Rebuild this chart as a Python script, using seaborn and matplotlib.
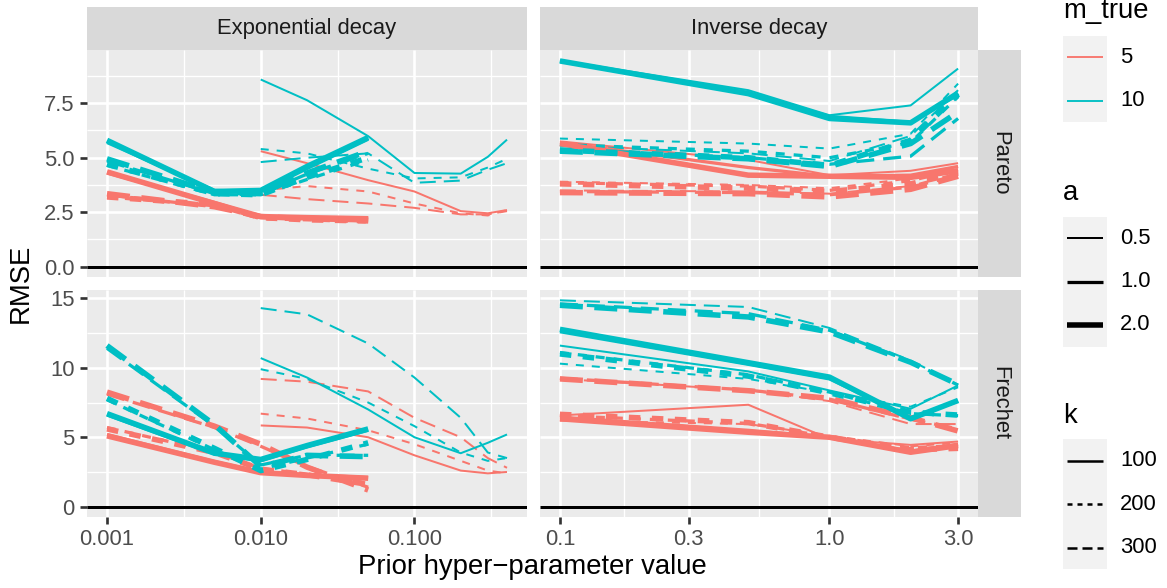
import matplotlib
matplotlib.use("Agg")
import pandas as pd
import matplotlib.pyplot as plt
import seaborn as sns
from matplotlib.patches import Rectangle
from matplotlib.ticker import FixedLocator, FixedFormatter, MultipleLocator, FormatStrFormatter

# ── data ─────────────────────────────────────────────────────────────────────
DISTS = ["Pareto", "Frechet"]
PRIORS = ["Exponential decay", "Inverse decay"]
M_LEVELS = [5, 10]
A_LEVELS = [0.5, 1.0, 2.0]
K_LEVELS = [100, 200, 300]

# prior hyper-parameter grids
X_EXP_A05 = [0.01, 0.02, 0.05, 0.1, 0.2, 0.3, 0.4]
X_EXP_A12 = [0.001, 0.005, 0.01, 0.02, 0.05]
X_INV = [0.1, 0.5, 1.0, 2.0, 3.0]

# RMSE, one row per line, rows ordered (a, k):
# (0.5,100) (0.5,200) (0.5,300) (1,100) (1,200) (1,300) (2,100) (2,200) (2,300)
pareto_exp_m5 = [
    [5.30, 4.75, 3.97, 3.45, 2.55, 2.45, 2.60],
    [3.50, 3.70, 3.45, 2.90, 2.45, 2.35, 2.60],
    [3.30, 3.10, 2.90, 2.70, 2.40, 2.40, 2.55],
    [4.30, 2.95, 2.30, 2.25, 2.25],
    [3.20, 2.80, 2.20, 2.15, 2.05],
    [3.30, 2.75, 2.25, 2.20, 2.10],
    [4.35, 2.90, 2.30, 2.25, 2.20],
    [3.20, 2.85, 2.25, 2.15, 2.10],
    [3.35, 2.75, 2.30, 2.20, 2.15],
]
pareto_exp_m10 = [
    [8.59, 7.64, 5.99, 4.30, 4.27, 5.04, 5.83],
    [5.40, 5.20, 4.50, 4.05, 4.10, 4.55, 4.95],
    [4.80, 5.00, 5.20, 3.85, 3.95, 4.45, 4.75],
    [5.70, 3.50, 3.45, 4.50, 5.85],
    [4.65, 3.30, 3.30, 4.00, 4.90],
    [4.85, 3.35, 3.35, 4.25, 5.20],
    [5.80, 3.45, 3.50, 4.60, 5.93],
    [4.70, 3.35, 3.30, 4.10, 5.00],
    [4.95, 3.40, 3.35, 4.30, 5.30],
]
pareto_inv_m5 = [
    [5.75, 4.90, 4.20, 4.40, 4.75],
    [3.90, 3.75, 3.60, 4.05, 4.55],
    [3.50, 3.45, 3.35, 3.70, 4.30],
    [5.70, 4.55, 4.15, 4.20, 4.60],
    [3.85, 3.70, 3.50, 3.95, 4.45],
    [3.45, 3.40, 3.30, 3.65, 4.20],
    [5.65, 4.20, 4.15, 4.10, 4.40],
    [3.80, 3.60, 3.45, 3.80, 4.30],
    [3.40, 3.35, 3.20, 3.55, 4.15],
]
pareto_inv_m10 = [
    [9.47, 8.10, 6.95, 7.40, 9.09],
    [5.88, 5.65, 5.42, 6.10, 8.40],
    [5.55, 5.20, 4.85, 6.00, 8.10],
    [9.42, 7.98, 6.90, 6.62, 7.90],
    [5.60, 5.30, 5.00, 5.70, 7.80],
    [5.40, 5.00, 4.70, 5.07, 6.80],
    [9.44, 7.94, 6.80, 6.60, 7.97],
    [5.35, 5.00, 4.65, 5.80, 7.90],
    [5.30, 4.95, 4.60, 5.65, 7.10],
]
frechet_exp_m5 = [
    [5.85, 5.70, 5.00, 3.70, 2.60, 2.40, 2.50],
    [6.70, 6.35, 5.50, 4.50, 3.30, 2.60, 2.40],
    [9.20, 9.00, 8.30, 6.40, 5.00, 3.50, 2.80],
    [5.20, 3.25, 2.50, 2.30, 2.10],
    [5.70, 3.95, 2.75, 2.35, 1.70],
    [8.10, 5.70, 4.35, 2.90, 1.40],
    [5.10, 3.20, 2.45, 2.25, 2.05],
    [5.60, 3.90, 2.70, 2.30, 1.60],
    [8.25, 5.80, 4.50, 2.85, 1.20],
]
frechet_exp_m10 = [
    [10.70, 9.30, 7.00, 5.00, 3.85, 4.60, 5.20],
    [9.90, 9.20, 7.50, 5.80, 3.90, 3.30, 3.50],
    [14.30, 13.85, 11.75, 9.30, 6.40, 3.90, 3.50],
    [6.60, 3.80, 3.30, 4.30, 5.50],
    [7.70, 4.10, 2.70, 3.50, 4.50],
    [11.40, 5.80, 3.00, 3.70, 3.70],
    [6.70, 3.85, 3.40, 4.40, 5.60],
    [7.80, 4.20, 2.60, 3.40, 4.60],
    [11.60, 5.90, 2.90, 3.70, 3.60],
]
frechet_inv_m5 = [
    [6.57, 7.34, 4.88, 4.45, 4.69],
    [6.20, 5.95, 5.10, 4.35, 4.60],
    [9.20, 8.40, 7.60, 5.95, 5.95],
    [6.45, 5.50, 5.00, 4.00, 4.50],
    [6.55, 6.00, 5.05, 4.25, 4.40],
    [9.25, 8.40, 7.75, 6.30, 5.60],
    [6.33, 5.36, 5.00, 3.92, 4.40],
    [6.65, 6.05, 5.00, 4.10, 4.20],
    [9.20, 8.35, 7.80, 6.40, 5.45],
]
frechet_inv_m10 = [
    [11.60, 9.74, 8.37, 7.05, 8.73],
    [10.30, 9.20, 8.20, 7.20, 8.60],
    [14.86, 14.38, 12.87, 10.53, 8.78],
    [12.60, 10.25, 9.20, 6.40, 7.60],
    [11.10, 9.50, 8.25, 6.70, 6.55],
    [14.60, 13.90, 12.70, 10.45, 8.75],
    [12.77, 10.37, 9.33, 6.33, 7.65],
    [11.00, 9.40, 8.20, 6.80, 6.60],
    [14.50, 13.66, 12.58, 10.40, 8.80],
]

# ── styles (ggplot2 look) ────────────────────────────────────────────────────
M_COLORS = {5: "#F8766D", 10: "#00BFC4"}
A_WIDTHS = {0.5: 0.8, 1.0: 1.3, 2.0: 2.2}
# dash unit (points) per line width: ggplot dashes grow with the line but
# never get shorter than a minimum
A_DASH_UNIT = {0.5: 1.6, 1.0: 1.8, 2.0: 2.3}
K_PATTERN = {100: "", 200: (2, 2), 300: (4, 2)}

plt.rcParams["font.family"] = ["Liberation Sans", "DejaVu Sans"]
plt.rcParams["lines.solid_capstyle"] = "butt"
plt.rcParams["lines.dash_capstyle"] = "butt"
plt.rcParams["lines.solid_joinstyle"] = "round"
plt.rcParams["lines.dash_joinstyle"] = "round"
plt.rcParams["lines.scale_dashes"] = False


def dashes_for(a):
    u = A_DASH_UNIT[a]
    return {k: (p if p == "" else tuple(v * u for v in p)) for k, p in K_PATTERN.items()}


def to_long(values, dist, prior, m_true):
    rows = []
    combos = [(a, k) for a in A_LEVELS for k in K_LEVELS]
    for (a, k), ys in zip(combos, values):
        if prior == "Inverse decay":
            xs = X_INV
        elif a == 0.5:
            xs = X_EXP_A05
        else:
            xs = X_EXP_A12
        for x, y in zip(xs, ys):
            rows.append({"dist": dist, "prior": prior, "m_true": m_true,
                         "a": a, "k": k, "x": x, "rmse": y})
    return rows


df = pd.DataFrame(
    to_long(pareto_exp_m5, "Pareto", "Exponential decay", 5)
    + to_long(pareto_exp_m10, "Pareto", "Exponential decay", 10)
    + to_long(pareto_inv_m5, "Pareto", "Inverse decay", 5)
    + to_long(pareto_inv_m10, "Pareto", "Inverse decay", 10)
    + to_long(frechet_exp_m5, "Frechet", "Exponential decay", 5)
    + to_long(frechet_exp_m10, "Frechet", "Exponential decay", 10)
    + to_long(frechet_inv_m5, "Frechet", "Inverse decay", 5)
    + to_long(frechet_inv_m10, "Frechet", "Inverse decay", 10)
)

# ── layout (pixel boxes) ─────────────────────────────────────────────────────
W, H, DPI = 1167, 588, 180
COL_PX = [(87, 527), (540, 978)]
ROW_PX = [(50, 277), (290, 517)]


def px_rect(x0, y0, x1, y1):
    return [x0 / W, 1 - y1 / H, (x1 - x0) / W, (y1 - y0) / H]


fig = plt.figure(figsize=(W / DPI, H / DPI), dpi=DPI)

axes = [[None, None], [None, None]]
for r in range(2):
    for c in range(2):
        share_x = axes[0][c] if r > 0 else None
        share_y = axes[r][0] if c > 0 else None
        axes[r][c] = fig.add_axes(px_rect(COL_PX[c][0], ROW_PX[r][0],
                                          COL_PX[c][1], ROW_PX[r][1]),
                                  sharex=share_x, sharey=share_y)

for r, dist in enumerate(DISTS):
    for c, prior in enumerate(PRIORS):
        ax = axes[r][c]
        ax.axhline(0, color="black", linewidth=1.2, zorder=1.5)
        for a in A_LEVELS:
            sub = df[(df["dist"] == dist) & (df["prior"] == prior) & (df["a"] == a)]
            sns.lineplot(data=sub, x="x", y="rmse", hue="m_true", size="a", style="k",
                         palette=M_COLORS, sizes={a: A_WIDTHS[a]}, dashes=dashes_for(a),
                         estimator=None, sort=True, legend=False, ax=ax)
        ax.set_xscale("log")
        ax.set_xlabel("")
        ax.set_ylabel("")
        ax.set_facecolor("#EBEBEB")
        for s in ax.spines.values():
            s.set_visible(False)
        ax.set_axisbelow(True)
        ax.grid(True, which="major", color="white", linewidth=1.07)
        ax.grid(True, which="minor", color="white", linewidth=0.53)
        ax.tick_params(which="major", length=2.75, width=1.07, color="#333333",
                       labelcolor="#4D4D4D", labelsize=8.8, pad=2.2)
        ax.tick_params(which="minor", length=0)

# x scales (free per column)
ax = axes[1][0]
ax.xaxis.set_major_locator(FixedLocator([0.001, 0.01, 0.1]))
ax.xaxis.set_major_formatter(FixedFormatter(["0.001", "0.010", "0.100"]))
ax.xaxis.set_minor_locator(FixedLocator([0.00316, 0.0316, 0.316]))
ax = axes[1][1]
ax.xaxis.set_major_locator(FixedLocator([0.1, 0.3, 1.0, 3.0]))
ax.xaxis.set_major_formatter(FixedFormatter(["0.1", "0.3", "1.0", "3.0"]))
ax.xaxis.set_minor_locator(FixedLocator([0.173, 0.548, 1.73]))

# y scales (free per row)
ax = axes[0][0]
ax.yaxis.set_major_locator(MultipleLocator(2.5))
ax.yaxis.set_minor_locator(MultipleLocator(1.25))
ax.yaxis.set_major_formatter(FormatStrFormatter("%.1f"))
ax = axes[1][0]
ax.yaxis.set_major_locator(MultipleLocator(5))
ax.yaxis.set_minor_locator(MultipleLocator(2.5))
ax.yaxis.set_major_formatter(FormatStrFormatter("%d"))

for c in range(2):
    axes[0][c].tick_params(axis="x", which="both", bottom=False, labelbottom=False)
for r in range(2):
    axes[r][1].tick_params(axis="y", which="both", left=False, labelleft=False)

# ── facet strips ─────────────────────────────────────────────────────────────
def style_strip(sax):
    sax.set_facecolor("#D9D9D9")
    sax.set_xticks([])
    sax.set_yticks([])
    for s in sax.spines.values():
        s.set_visible(False)


for c, prior in enumerate(PRIORS):
    sax = fig.add_axes(px_rect(COL_PX[c][0], 7, COL_PX[c][1], 50))
    style_strip(sax)
    sax.text(0.5, 0.5, prior, transform=sax.transAxes, ha="center", va="center",
             fontsize=8.8, color="#1A1A1A")
for r, dist in enumerate(DISTS):
    sax = fig.add_axes(px_rect(978, ROW_PX[r][0], 1021, ROW_PX[r][1]))
    style_strip(sax)
    sax.text(0.5, 0.5, dist, transform=sax.transAxes, ha="center", va="center",
             rotation=-90, fontsize=8.8, color="#1A1A1A")

# ── axis titles ──────────────────────────────────────────────────────────────
fig.text(21 / W, 1 - 283.5 / H, "RMSE", rotation=90, ha="center", va="center",
         fontsize=11, color="black")
fig.text(532.5 / W, 1 - 567 / H, "Prior hyper\u2212parameter value", ha="center",
         va="center", fontsize=11, color="black")

# ── legends (ggplot style key boxes) ─────────────────────────────────────────
leg = fig.add_axes([0, 0, 1, 1])
leg.set_xlim(0, W)
leg.set_ylim(H, 0)
leg.axis("off")

KEY = 43.4
KEY_X = 1063


def legend_block(title, baseline, top, labels, line_styles):
    leg.text(KEY_X, baseline, title, fontsize=11, ha="left", va="baseline", color="black")
    for i, (lab, st) in enumerate(zip(labels, line_styles)):
        y0 = top + i * KEY
        leg.add_patch(Rectangle((KEY_X, y0), 44, KEY, facecolor="#F2F2F2", edgecolor="none"))
        leg.plot([KEY_X + 4, KEY_X + 40], [y0 + KEY / 2] * 2, **st)
        leg.text(KEY_X + 57, y0 + KEY / 2, lab, fontsize=8.8, ha="left", va="center",
                 color="black")


legend_block("m_true", 18, 35.6, ["5", "10"],
             [{"color": M_COLORS[m], "linewidth": 0.75} for m in M_LEVELS])
legend_block("a", 200, 216.5, ["0.5", "1.0", "2.0"],
             [{"color": "black", "linewidth": A_WIDTHS[a]} for a in A_LEVELS])
legend_block("k", 423, 439, ["100", "200", "300"],
             [{"color": "black", "linewidth": 1.0, "linestyle": "-"},
              {"color": "black", "linewidth": 1.0, "dashes": (2, 2)},
              {"color": "black", "linewidth": 1.0, "dashes": (4, 2)}])

fig.savefig("out.png", dpi=DPI)
